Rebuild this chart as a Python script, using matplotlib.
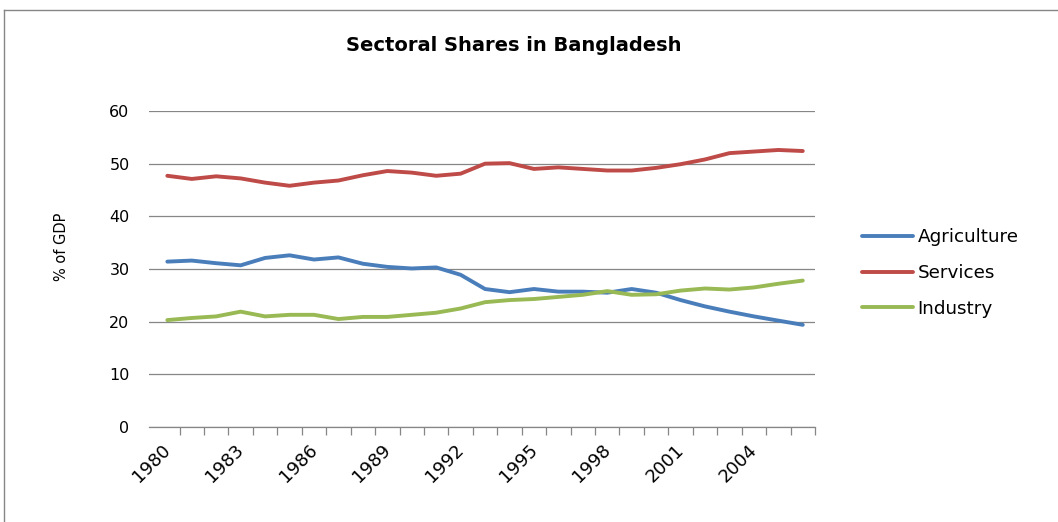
import matplotlib
matplotlib.use("Agg")
import matplotlib.pyplot as plt
from matplotlib.lines import Line2D
from matplotlib.transforms import ScaledTranslation

years = list(range(1980, 2007))
agriculture = [31.4, 31.6, 31.1, 30.7, 32.1, 32.6, 31.8, 32.2, 31.0, 30.4, 30.1, 30.3, 28.9,
               26.2, 25.6, 26.2, 25.7, 25.7, 25.5, 26.2, 25.5, 24.1, 22.9, 21.9, 21.0, 20.2, 19.4]
services = [47.7, 47.1, 47.6, 47.2, 46.4, 45.8, 46.4, 46.8, 47.8, 48.6, 48.3, 47.7, 48.1,
            50.0, 50.1, 49.0, 49.3, 49.0, 48.7, 48.7, 49.2, 49.9, 50.8, 52.0, 52.3, 52.6, 52.4]
industry = [20.3, 20.7, 21.0, 21.9, 21.0, 21.3, 21.3, 20.5, 20.9, 20.9, 21.3, 21.7, 22.5,
            23.7, 24.1, 24.3, 24.7, 25.1, 25.8, 25.1, 25.2, 25.9, 26.3, 26.1, 26.5, 27.2, 27.8]
series_names = ["Agriculture", "Services", "Industry"]
series_colors = ["#4A7EBB", "#BE4B48", "#98B954"]
title = "Sectoral Shares in Bangladesh"
ylabel = "% of GDP"
yticks = [0, 10, 20, 30, 40, 50, 60]

W, H = 1058, 522
fig = plt.figure(figsize=(W / 100, H / 100), dpi=100)
plt.rcParams['font.family'] = ['DejaVu Sans']

ax = fig.add_axes([149 / W, 1 - 427 / H, (815 - 149) / W, (427 - 111) / H])
x = list(range(len(years)))
for vals, name, col in zip([agriculture, services, industry], series_names, series_colors):
    ax.plot(x, vals, color=col, lw=2.8, label=name, solid_capstyle='round', solid_joinstyle='round')

ax.set_ylim(0, 60)
ax.set_xlim(-0.75, len(years) - 0.5)
ax.set_yticks(yticks)
ax.yaxis.grid(True, color="#868686", lw=0.9)
ax.set_axisbelow(True)
ax.tick_params(axis='y', length=0, pad=14, labelsize=11.5, colors='black')
for s in ['left', 'right', 'top']:
    ax.spines[s].set_visible(False)
ax.spines['bottom'].set_color("#868686")
ax.spines['bottom'].set_linewidth(0.9)

major = [i for i, y in enumerate(years) if (y - 1980) % 3 == 0]
ax.set_xticks(major)
ax.set_xticklabels([str(years[i]) for i in major], rotation=45, ha='right', fontsize=13)
ax.tick_params(axis='x', which='major', length=0, pad=10)
offset = ScaledTranslation(7 / 100, 0, fig.dpi_scale_trans)
for lbl in ax.get_xticklabels():
    lbl.set_transform(lbl.get_transform() + offset)
ax.set_xticks([i + 0.5 for i in range(len(years))], minor=True)
ax.tick_params(axis='x', which='minor', length=6, width=0.9, color="#868686", direction='out')

fig.text(62 / W, 1 - 247 / H, ylabel, rotation=90, ha='center', va='center', fontsize=10.5)
fig.text(514 / W, 1 - 45 / H, title, ha='center', va='center', fontsize=14, fontweight='bold')

fig.legend(loc='upper left', bbox_to_anchor=(853 / W, 1 - 219 / H), frameon=False,
           fontsize=13.2, handlelength=2.75, handletextpad=0.28, labelspacing=0.97, borderpad=0)

# outer chart border (top and left visible)
fig.add_artist(Line2D([4 / W, 1.0], [1 - 10 / H, 1 - 10 / H], color="#868686", lw=1.0, transform=fig.transFigure))
fig.add_artist(Line2D([4 / W, 4 / W], [0.0, 1 - 10 / H], color="#868686", lw=1.0, transform=fig.transFigure))

fig.savefig("out.png", dpi=100)
